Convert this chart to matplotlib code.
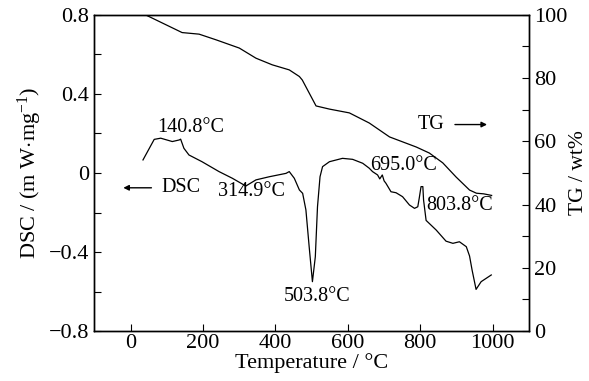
import matplotlib
matplotlib.use("Agg")
import matplotlib.pyplot as plt

plt.rcParams['font.family'] = ['Liberation Serif', 'DejaVu Serif']
plt.rcParams['mathtext.fontset'] = 'custom'
plt.rcParams['mathtext.rm'] = 'Liberation Serif'
plt.rcParams['mathtext.it'] = 'Liberation Serif:italic'
plt.rcParams['mathtext.bf'] = 'Liberation Serif:bold'

# TG curve (temperature °C, wt%)
tg_temp = [20, 41, 142, 189, 236, 300, 346, 391, 438, 466, 474, 493, 512, 549, 604,
           659, 715, 789, 825, 862, 899, 936, 955, 975, 997]
tg_wt = [100, 100, 94.4, 93.9, 92.1, 89.5, 86.3, 84.2, 82.6, 80.5, 79.4, 75.3, 71.2,
         70.2, 69.0, 65.8, 61.4, 58.2, 56.3, 53.2, 48.7, 44.6, 43.6, 43.4, 42.9]

# DSC curve (temperature °C, mW/mg)
dsc_temp = [34, 65, 83, 115, 134, 138, 147, 161, 197, 244, 281, 318, 346, 383, 429,
            438, 452, 466, 475, 484, 493, 502, 510, 516, 523, 530, 549, 585, 613,
            641, 659, 668, 682, 688, 695, 700, 705, 719, 733, 751, 770, 784, 793,
            797, 802, 807, 809, 816, 844, 871, 890, 908, 927, 936, 943, 954, 968,
            982, 996]
dsc_val = [0.066, 0.17, 0.176, 0.159, 0.167, 0.171, 0.125, 0.091, 0.057, 0.007,
           -0.027, -0.066, -0.035, -0.019, -0.002, 0.007, -0.027, -0.086, -0.103,
           -0.187, -0.373, -0.55, -0.424, -0.171, -0.019, 0.032, 0.057, 0.074,
           0.069, 0.049, 0.024, 0.007, -0.01, -0.03, -0.01, -0.04, -0.052, -0.095,
           -0.1, -0.12, -0.162, -0.179, -0.171, -0.128, -0.069, -0.069, -0.137,
           -0.24, -0.289, -0.345, -0.356, -0.348, -0.373, -0.42, -0.491, -0.589,
           -0.55, -0.533, -0.516]

# peak annotations
peak_labels = ['140.8°C', '314.9°C', '503.8°C', '695.0°C', '803.8°C']
peak_text_x = [165, 333, 515, 754, 908]
peak_text_y = [0.228, -0.096, -0.623, 0.04, -0.167]

x_ticks = [0, 200, 400, 600, 800, 1000]
dsc_ticks = [-0.8, -0.4, 0, 0.4, 0.8]
dsc_tick_labels = ['\u22120.8', '\u22120.4', '0', '0.4', '0.8']
tg_ticks = [0, 20, 40, 60, 80, 100]

fig = plt.figure(figsize=(5.89, 3.81), dpi=100)
ax = fig.add_axes([0.1604, 0.131, 0.898 - 0.1604, 0.961 - 0.131])
ax2 = ax.twinx()

fs = 16
afs = 14.5
ax.plot(dsc_temp, dsc_val, color='black', lw=0.9)
ax2.plot(tg_temp, tg_wt, color='black', lw=0.9)

ax.set_xlim(-100, 1100)
ax.set_ylim(-0.8, 0.8)
ax2.set_ylim(0, 100)

ax.set_xticks(x_ticks)
ax.set_xticklabels([str(t) for t in x_ticks], fontsize=fs)
ax.set_yticks(dsc_ticks)
ax.set_yticklabels(dsc_tick_labels, fontsize=fs)
ax.set_yticks([-0.6, -0.2, 0.2, 0.6], minor=True)
ax2.set_yticks(tg_ticks)
ax2.set_yticklabels([str(t) for t in tg_ticks], fontsize=fs)
ax2.set_yticks([10, 30, 50, 70, 90], minor=True)

ax.tick_params(axis='both', which='both', direction='in', length=5, width=0.8, pad=4)
ax.tick_params(axis='x', which='major', pad=2)
ax2.tick_params(axis='y', which='both', direction='in', length=5, width=0.8, pad=4)

for a in (ax, ax2):
    for s in a.spines.values():
        s.set_linewidth(1.0)

ax.set_xlabel('Temperature / °C', fontsize=fs, labelpad=0)
ax.set_ylabel('DSC / (m W$\\cdot$mg$^{-1}$)', fontsize=fs, labelpad=3)
ax2.set_ylabel('TG / wt%', fontsize=fs - 0.5, labelpad=1)

for lab, tx, ty in zip(peak_labels, peak_text_x, peak_text_y):
    ax.text(tx, ty, lab, fontsize=afs, ha='center', va='center')

# curve labels with arrows
ax.annotate('', xy=(-28, -0.075), xytext=(65, -0.075),
            arrowprops=dict(arrowstyle='-|>', color='black', lw=1.0, mutation_scale=8))
ax.text(85, -0.075, 'DSC', fontsize=afs, ha='left', va='center')
ax.text(830, 0.245, 'TG', fontsize=afs, ha='center', va='center')
ax.annotate('', xy=(992, 0.245), xytext=(888, 0.245),
            arrowprops=dict(arrowstyle='-|>', color='black', lw=1.0, mutation_scale=8))

fig.savefig('out.png', dpi=100)
